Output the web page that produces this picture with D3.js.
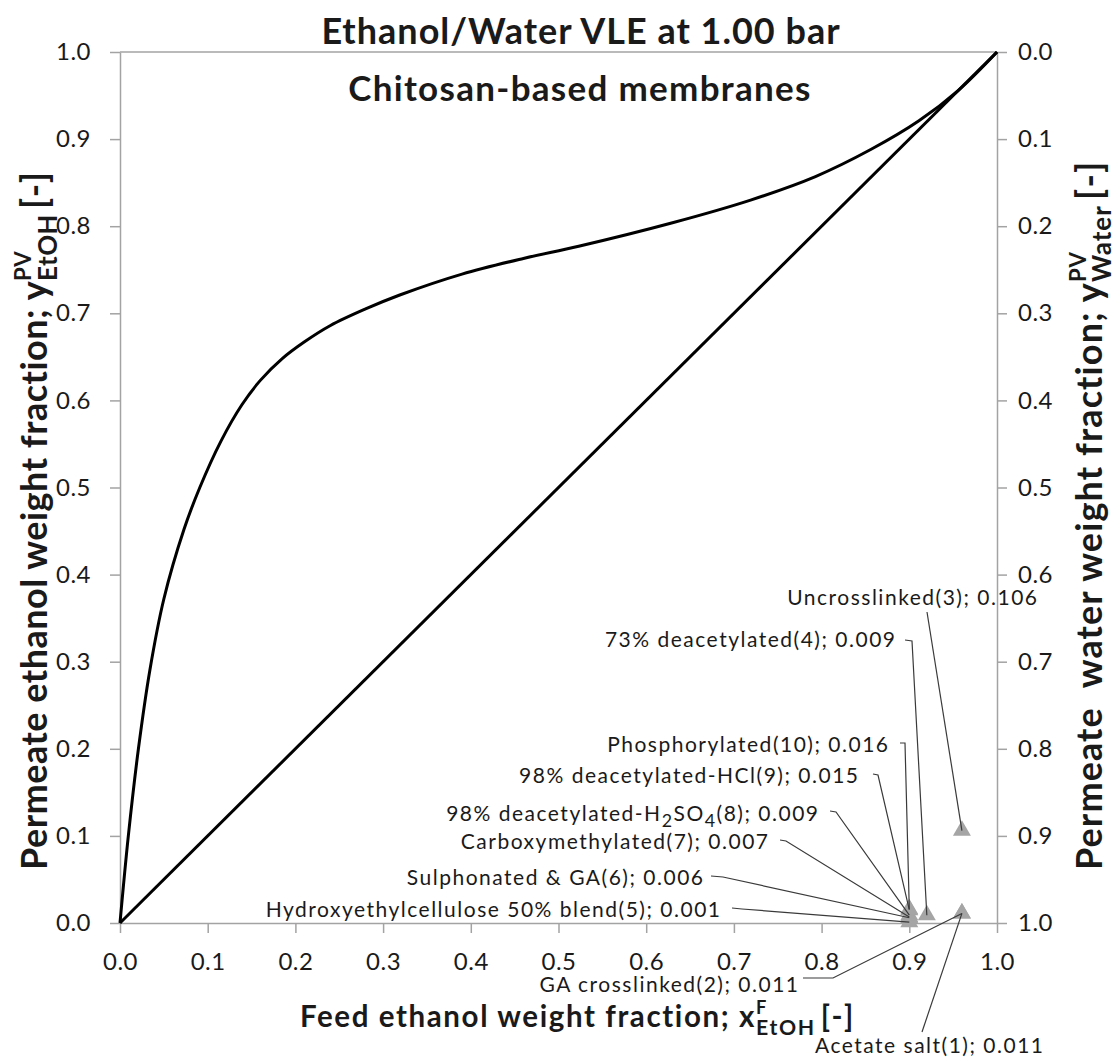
<!DOCTYPE html>
<html>
<head>
<meta charset="utf-8">
<script src="https://cdn.jsdelivr.net/npm/d3@7"></script>
<style>
  body { margin: 0; background: #fff; }
  text { font-family: Lato, "Open Sans", sans-serif; fill: #1a1a1a; }
</style>
</head>
<body>
<svg id="chart" width="1116" height="1061"></svg>
<script>
// ---- data ----
const axisTicks = [0, 0.1, 0.2, 0.3, 0.4, 0.5, 0.6, 0.7, 0.8, 0.9, 1.0];

// ethanol/water VLE at 1.00 bar, weight fractions (liquid feed vs. vapour)
const vleFeed     = [0, 0.0095, 0.021, 0.034, 0.050, 0.073, 0.091, 0.115, 0.139, 0.160, 0.185, 0.210, 0.240, 0.280, 0.319, 0.390, 0.460, 0.523, 0.630, 0.719, 0.793, 0.856, 0.911, 0.956, 1];
const vlePermeate = [0, 0.100, 0.200, 0.290, 0.372, 0.452, 0.500, 0.553, 0.595, 0.623, 0.648, 0.667, 0.686, 0.705, 0.721, 0.745, 0.763, 0.777, 0.804, 0.830, 0.857, 0.888, 0.921, 0.956, 1];

// y = x reference line
const diagFeed     = [0, 1];
const diagPermeate = [0, 1];

// chitosan-based membranes
const membraneIds      = [1, 2, 3, 4, 5, 6, 7, 8, 9, 10];
const membraneNames    = ["Acetate salt", "GA crosslinked", "Uncrosslinked", "73% deacetylated",
                          "Hydroxyethylcellulose 50% blend", "Sulphonated & GA", "Carboxymethylated",
                          "98% deacetylated-H_2SO_4", "98% deacetylated-HCl", "Phosphorylated"];
const membraneFeed     = [0.96, 0.96, 0.96, 0.92, 0.90, 0.90, 0.90, 0.90, 0.90, 0.90];
const membranePermeate = [0.011, 0.011, 0.106, 0.009, 0.001, 0.006, 0.007, 0.009, 0.015, 0.016];

// ---- layout ----
const svg = d3.select("#chart");
const plot = { left: 120, right: 997, top: 52, bottom: 923 };
const x = d3.scaleLinear().domain([0, 1]).range([plot.left, plot.right]);
const y = d3.scaleLinear().domain([0, 1]).range([plot.bottom, plot.top]);
const yWater = d3.scaleLinear().domain([0, 1]).range([plot.top, plot.bottom]);

const axisColor = "#a3a3a3";
const fmt = d3.format(".1f");
const tickFont = 24;

function styleAxis(g) {
  g.selectAll("path.domain").attr("stroke", axisColor).attr("stroke-width", 1.5);
  g.selectAll(".tick line").attr("stroke", axisColor).attr("stroke-width", 1.5);
  g.selectAll(".tick text").attr("font-size", tickFont).attr("fill", "#1a1a1a")
    .style("font-family", "Lato, 'Open Sans', sans-serif").style("letter-spacing", "0.5px");
}

// top border
svg.append("line")
  .attr("x1", plot.left).attr("x2", plot.right)
  .attr("y1", plot.top).attr("y2", plot.top)
  .attr("stroke", axisColor).attr("stroke-width", 1.5);

svg.append("g")
  .attr("transform", `translate(0,${plot.bottom})`)
  .call(d3.axisBottom(x).tickValues(axisTicks).tickFormat(fmt).tickSize(10).tickSizeOuter(0).tickPadding(20))
  .call(styleAxis);

svg.append("g")
  .attr("transform", `translate(${plot.left},0)`)
  .call(d3.axisLeft(y).tickValues(axisTicks).tickFormat(fmt).tickSize(10).tickSizeOuter(0).tickPadding(19))
  .call(styleAxis);

svg.append("g")
  .attr("transform", `translate(${plot.right},0)`)
  .call(d3.axisRight(yWater).tickValues(axisTicks).tickFormat(fmt).tickSize(10).tickSizeOuter(0).tickPadding(11))
  .call(styleAxis);

// ---- curves ----
const line = d3.line().x(d => x(d[0])).y(d => y(d[1]));
const vleLine = d3.line().x(d => x(d[0])).y(d => y(d[1])).curve(d3.curveCatmullRom.alpha(0.5));

svg.append("path")
  .datum(diagFeed.map((v, i) => [v, diagPermeate[i]]))
  .attr("d", line).attr("fill", "none").attr("stroke", "#000").attr("stroke-width", 3);

svg.append("path")
  .datum(vleFeed.map((v, i) => [v, vlePermeate[i]]))
  .attr("d", vleLine).attr("fill", "none").attr("stroke", "#000").attr("stroke-width", 3);

// ---- membrane markers ----
const membranes = membraneIds.map((id, i) => ({
  id, name: membraneNames[i], feed: membraneFeed[i], permeate: membranePermeate[i]
}));

svg.append("g").selectAll("path")
  .data(membranes)
  .join("path")
  .attr("d", d3.symbol(d3.symbolTriangle, 140))
  .attr("transform", d => `translate(${x(d.feed)},${y(d.permeate)})`)
  .attr("fill", "#a5a5a5");

// callout placement: label baseline anchor and leader bend points (px)
const callouts = {
  1:  { anchor: "start", lx: 815, ly: 1053, pts: [[922, 1032]] },
  2:  { anchor: "end",   lx: 798, ly: 992,  pts: [[803, 978], [833, 978]] },
  3:  { anchor: "end",   lx: 1037, ly: 605, pts: [[927, 612]] },
  4:  { anchor: "end",   lx: 895, ly: 647,  pts: [[905, 640], [912, 641]] },
  5:  { anchor: "end",   lx: 720, ly: 917,  pts: [[732, 908], [742, 909]] },
  6:  { anchor: "end",   lx: 703, ly: 885,  pts: [[711, 876], [723, 877]] },
  7:  { anchor: "end",   lx: 768, ly: 849,  pts: [[780, 840], [786, 841]] },
  8:  { anchor: "end",   lx: 818, ly: 821,  pts: [[830, 811], [836, 812]] },
  9:  { anchor: "end",   lx: 858, ly: 783,  pts: [[873, 774], [878, 775]] },
  10: { anchor: "end",   lx: 888, ly: 752,  pts: [[900, 743], [905, 743]] }
};

svg.append("g").selectAll("path")
  .data(membranes)
  .join("path")
  .attr("d", d => d3.line()([...callouts[d.id].pts, [x(d.feed), y(d.permeate)]]))
  .attr("fill", "none").attr("stroke", "#3a3a3a").attr("stroke-width", 1.2);

// ---- rich text helper: base runs, subscripts, superscripts, stacked sub/sup ----
function richText(parent, pieces, size, weight, anchor, spacing) {
  const g = parent.append("g");
  const inner = g.append("g");
  let cx = 0;
  const addRun = (txt, fs, dy) => {
    const t = inner.append("text")
      .attr("x", cx).attr("y", dy)
      .attr("font-size", fs).attr("font-weight", weight)
      .style("white-space", "pre")
      .style("letter-spacing", `${spacing}px`)
      .text(txt);
    return t.node().getComputedTextLength();
  };
  pieces.forEach(p => {
    if (p.k === "b") cx += addRun(p.t, size, 0);
    else if (p.k === "gap") cx += p.w;
    else if (p.k === "sub") cx += addRun(p.t, size * p.r, size * p.dy);
    else if (p.k === "sup") cx += addRun(p.t, size * p.r, -size * p.dy);
    else if (p.k === "subsup") {
      const w1 = addRun(p.sub, size * p.rs, size * p.dys);
      const w2 = addRun(p.sup, size * p.rp, -size * p.dyp);
      cx += Math.max(w1, w2);
    }
  });
  const shift = anchor === "middle" ? -cx / 2 : anchor === "end" ? -cx + spacing : 0;
  inner.attr("transform", `translate(${shift},0)`);
  return g;
}

function parseName(str) {
  // "_d" marks a subscript digit
  const out = [];
  str.split(/(_\d)/).forEach(s => {
    if (!s) return;
    if (s[0] === "_") out.push({ k: "sub", t: s.slice(1), r: 0.85, dy: 0.3 });
    else out.push({ k: "b", t: s });
  });
  return out;
}

// callout labels
membranes.forEach(d => {
  const c = callouts[d.id];
  const pieces = parseName(d.name);
  pieces.push({ k: "b", t: `(${d.id}); ${d.permeate.toFixed(3)}` });
  richText(svg, pieces, 21, 400, c.anchor, 1.5).attr("transform", `translate(${c.lx},${c.ly})`);
});

// ---- titles ----
svg.append("text").attr("x", 581).attr("y", 44).attr("text-anchor", "middle")
  .attr("font-size", 36).attr("font-weight", 700).style("letter-spacing", "1px")
  .text("Ethanol/Water VLE at 1.00 bar");
svg.append("text").attr("x", 580).attr("y", 101).attr("text-anchor", "middle")
  .attr("font-size", 35).attr("font-weight", 700).style("letter-spacing", "1.3px")
  .text("Chitosan-based membranes");

// ---- axis titles ----
richText(svg, [
  { k: "b", t: "Feed ethanol weight fraction; x" },
  { k: "subsup", sub: "EtOH", rs: 0.72, dys: 0.28, sup: "F", rp: 0.62, dyp: 0.45 },
  { k: "gap", w: 5 },
  { k: "b", t: "[-]" }
], 29.5, 700, "start", 1.6).attr("transform", "translate(300,1027)");

richText(svg, [
  { k: "b", t: "Permeate ethanol weight fraction; y" },
  { k: "subsup", sub: "EtOH", rs: 0.72, dys: 0.28, sup: "PV", rp: 0.62, dyp: 0.45 },
  { k: "gap", w: 5 },
  { k: "b", t: "[-]" }
], 36, 700, "start", 0.5).attr("transform", "translate(47,870) rotate(-90)");

richText(svg, [
  { k: "b", t: "Permeate  water weight fraction; y" },
  { k: "subsup", sub: "Water", rs: 0.72, dys: 0.25, sup: "PV", rp: 0.62, dyp: 0.45 },
  { k: "gap", w: 5 },
  { k: "b", t: "[-]" }
], 36, 700, "start", 1.1).attr("transform", "translate(1102,870) rotate(-90)");
</script>
</body>
</html>
